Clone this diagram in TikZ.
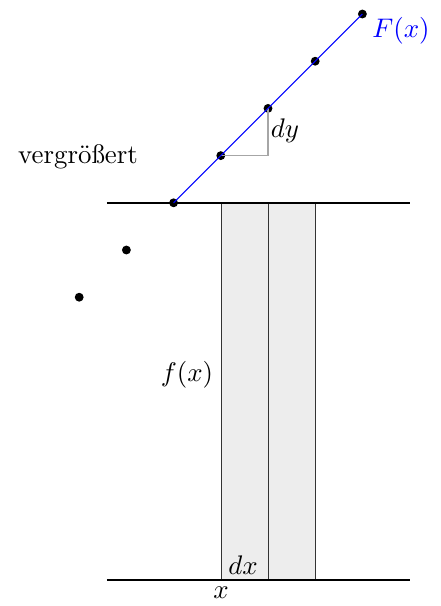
\documentclass[tikz,border=0pt]{standalone}
\begin{document}
\begin{tikzpicture}[x=0.372pt,y=-0.372pt,
  dot/.style={circle,fill=black,inner sep=0pt,minimum size=3.3pt},
  strip/.style={fill=black!7,draw=black!80,line width=0.3pt},
  base/.style={draw=black,line width=0.5pt},
  graph/.style={draw=blue,line width=0.4pt},
  tri/.style={draw=black!35,line width=0.4pt},
  lbl/.style={inner sep=0pt}]
\useasboundingbox (0,0) rectangle (440,606);
% strips
\draw[strip] (221,203) rectangle (268,580);
\draw[strip] (268,203) rectangle (315,580);
% base lines
\coordinate (tl) at (107,203);
\coordinate (tr) at (410,203);
\coordinate (bl) at (107,580);
\coordinate (br) at (410,580);
\draw[base] (tl) -- (tr);
\draw[base] (bl) -- (br);
% dots
\node[dot] (p0) at (173.6,202.8) {};
\node[dot] (p1) at (220.8,155.6) {};
\node[dot] (p2) at (268.0,108.4) {};
\node[dot] (p3) at (315.2,61.2) {};
\node[dot] (p4) at (362.4,14.0) {};
\node[dot] (q1) at (126.4,250.0) {};
\node[dot] (q2) at (79.2,297.2) {};
% triangle
\coordinate (c) at (268.0,155.6);
\draw[tri] (p1.center) -- (c) -- (p2.center);
% graph
\draw[graph] (p0.center) -- (p4.center);
% labels
\node[lbl,blue] (F) at (401,31) {$F(x)$};
\node[lbl] (dy) at (285,131) {$dy$};
\node[lbl] (v) at (78,157) {vergrößert};
\node[lbl] (f) at (187,375) {$f(x)$};
\node[lbl] (dx) at (243,565) {$dx$};
\node[lbl] (x) at (221,593) {$x$};
\end{tikzpicture}
\end{document}
